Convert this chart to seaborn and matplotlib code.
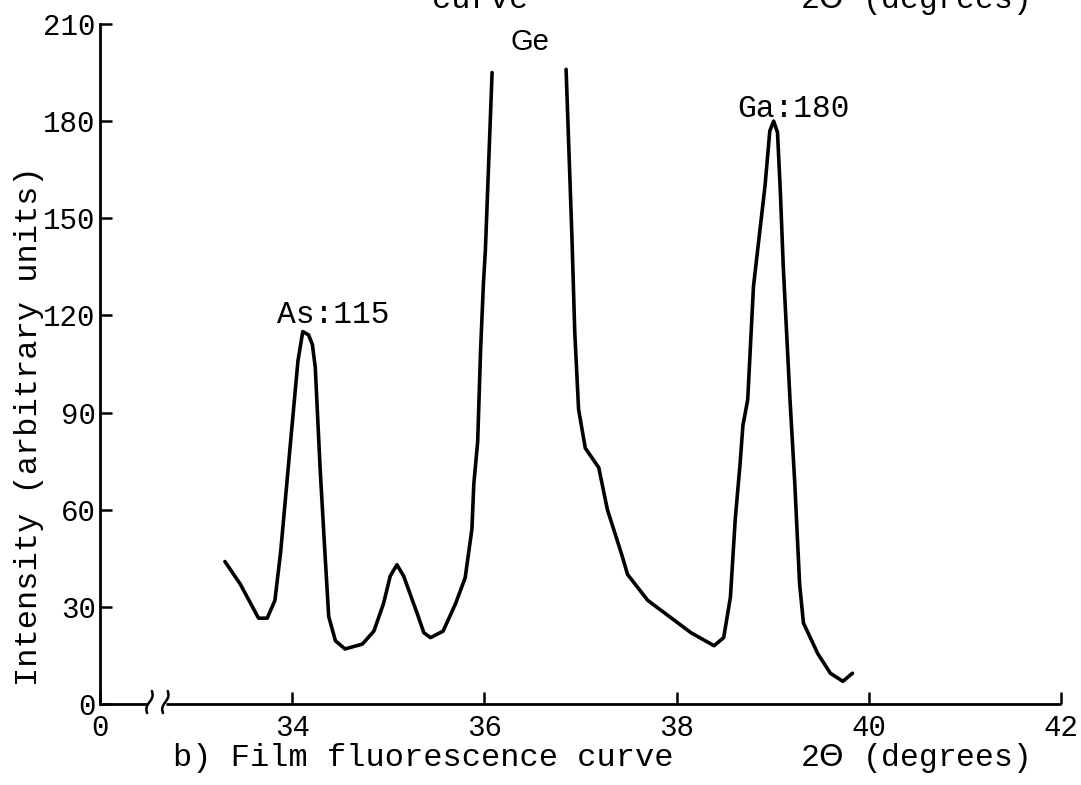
import numpy as np
import pandas as pd
import matplotlib
matplotlib.use("Agg")
import matplotlib.pyplot as plt
import seaborn as sns

# Film fluorescence curve, 2-theta (degrees) vs intensity (arbitrary units).
# The Ge peak runs off scale, so the trace is split into two segments there.
two_theta = [33.30, 33.46, 33.65, 33.74, 33.82, 33.88, 33.98, 34.06, 34.11, 34.17,
             34.21, 34.24, 34.29, 34.34, 34.38, 34.45, 34.55, 34.73, 34.85, 34.95,
             35.02, 35.09, 35.16, 35.30, 35.37, 35.44, 35.57, 35.70, 35.80, 35.87,
             35.89, 35.93, 35.96, 35.99, 36.01, 36.08,
             36.85, 36.91, 36.94, 36.98, 37.05, 37.19, 37.28, 37.42, 37.49, 37.70,
             37.97, 38.15, 38.39, 38.49, 38.56, 38.61, 38.66, 38.69, 38.74, 38.80,
             38.92, 38.97, 39.01, 39.05, 39.08, 39.11, 39.18, 39.23, 39.28, 39.32,
             39.47, 39.60, 39.73, 39.83]
intensity = [44, 37, 26.5, 26.5, 32, 47, 80, 106, 115, 114,
             111, 104, 73, 47, 27, 19.5, 17, 18.5, 22.5, 31,
             39.5, 43, 39.5, 28, 22, 20.5, 22.5, 31, 39, 54,
             68, 81, 109, 130, 140, 195,
             196, 145, 115, 91, 79, 73, 60, 47, 40, 32,
             26, 22, 18, 20.5, 33, 57, 74, 86, 94, 129,
             160, 177, 180, 176.5, 158, 135, 94, 68, 37, 25,
             15.5, 9.5, 7, 9.5]

# Peak annotations: element, peak position, peak value
peak_names = ["As", "Ga"]
peak_theta = [34.11, 39.01]
peak_value = [115, 180]
ge_label_pos = (36.47, 204.5)

# Broken x axis: the origin "0" is drawn where 32 would sit
x_ticks = [32, 34, 36, 38, 40, 42]
x_tick_labels = ["0", "34", "36", "38", "40", "42"]
y_ticks = [0, 30, 60, 90, 120, 150, 180, 210]

sns.set_style("ticks")
plt.rcParams["font.family"] = ["Liberation Mono", "DejaVu Sans Mono", "DejaVu Sans"]
plt.rcParams["mathtext.fontset"] = "dejavusans"

W, H = 1081, 785
fig = plt.figure(figsize=(W / 100, H / 100), dpi=100)
ax = fig.add_axes([100 / W, 81 / H, 961 / W, 680 / H])

df = pd.DataFrame({"two_theta": two_theta, "intensity": intensity})
df["segment"] = np.concatenate([[0], np.cumsum(np.diff(df["two_theta"]) > 0.5)])

sns.lineplot(data=df, x="two_theta", y="intensity", units="segment",
             estimator=None, sort=False, color="black", linewidth=2.6, ax=ax)

ax.set_xlim(32, 42)
ax.set_ylim(0, 210)
ax.set_xticks(x_ticks)
ax.set_xticklabels(x_tick_labels)
ax.set_yticks(y_ticks)
ax.tick_params(axis="both", direction="in", length=8.5, width=1.8,
               labelsize=21, colors="black")
ax.tick_params(axis="y", pad=3)
ax.tick_params(axis="x", pad=7)

for side in ["top", "right", "bottom"]:
    ax.spines[side].set_visible(False)
ax.spines["left"].set_linewidth(2.0)
ax.spines["left"].set_color("black")

# x axis line with a break between the origin and 34
xt = ax.get_xaxis_transform()
ax.plot([32, 32.49], [0, 0], color="black", lw=2.0, transform=xt, clip_on=False,
        solid_capstyle="butt")
ax.plot([32.69, 42], [0, 0], color="black", lw=2.0, transform=xt, clip_on=False,
        solid_capstyle="butt")
t = np.linspace(0, 1, 30)
for xc in (32.515, 32.68):
    bx = xc + 0.05 * (t - 0.5) - 0.018 * np.sin(2 * np.pi * t)
    by = -2.8 + 6.8 * t
    ax.plot(bx, by, color="black", lw=1.8, clip_on=False)

label_offsets = {"As": (22, 6.5), "Ga": (14, 3)}
for name, px, pv in zip(peak_names, peak_theta, peak_value):
    ax.annotate(f"{name}:{pv}", xy=(px, pv), xytext=label_offsets[name],
                textcoords="offset points", ha="center", va="baseline",
                fontsize=22.5, color="black")
ax.text(*ge_label_pos, "Ge", ha="center", va="center", fontsize=21,
        family=["Liberation Sans", "DejaVu Sans"], color="black")

ax.set_ylabel("Intensity (arbitrary units)", fontsize=23, color="black")
ax.yaxis.set_label_coords(-0.0739, 0.409)
ax.yaxis.label.set_verticalalignment("center")

theta_label = r"2$\Theta$ (degrees)"
ax.set_xlabel(theta_label, fontsize=22.5, color="black")
ax.xaxis.set_label_coords(0.847, -0.091)
ax.xaxis.label.set_verticalalignment("baseline")

fig.text(173 / W, 1 - 766 / H, "b) Film fluorescence curve", ha="left",
         va="baseline", fontsize=23, color="black")

# Bottom edge of the previous panel's captions, cut off at the top of the sheet
fig.text(528 / W, 1 - 8 / H, "curve", ha="right", va="baseline",
         fontsize=23, color="black")
fig.text(914 / W, 1 - 8 / H, theta_label, ha="center", va="baseline",
         fontsize=22.5, color="black")

fig.savefig("out.png", dpi=100, facecolor="white")
